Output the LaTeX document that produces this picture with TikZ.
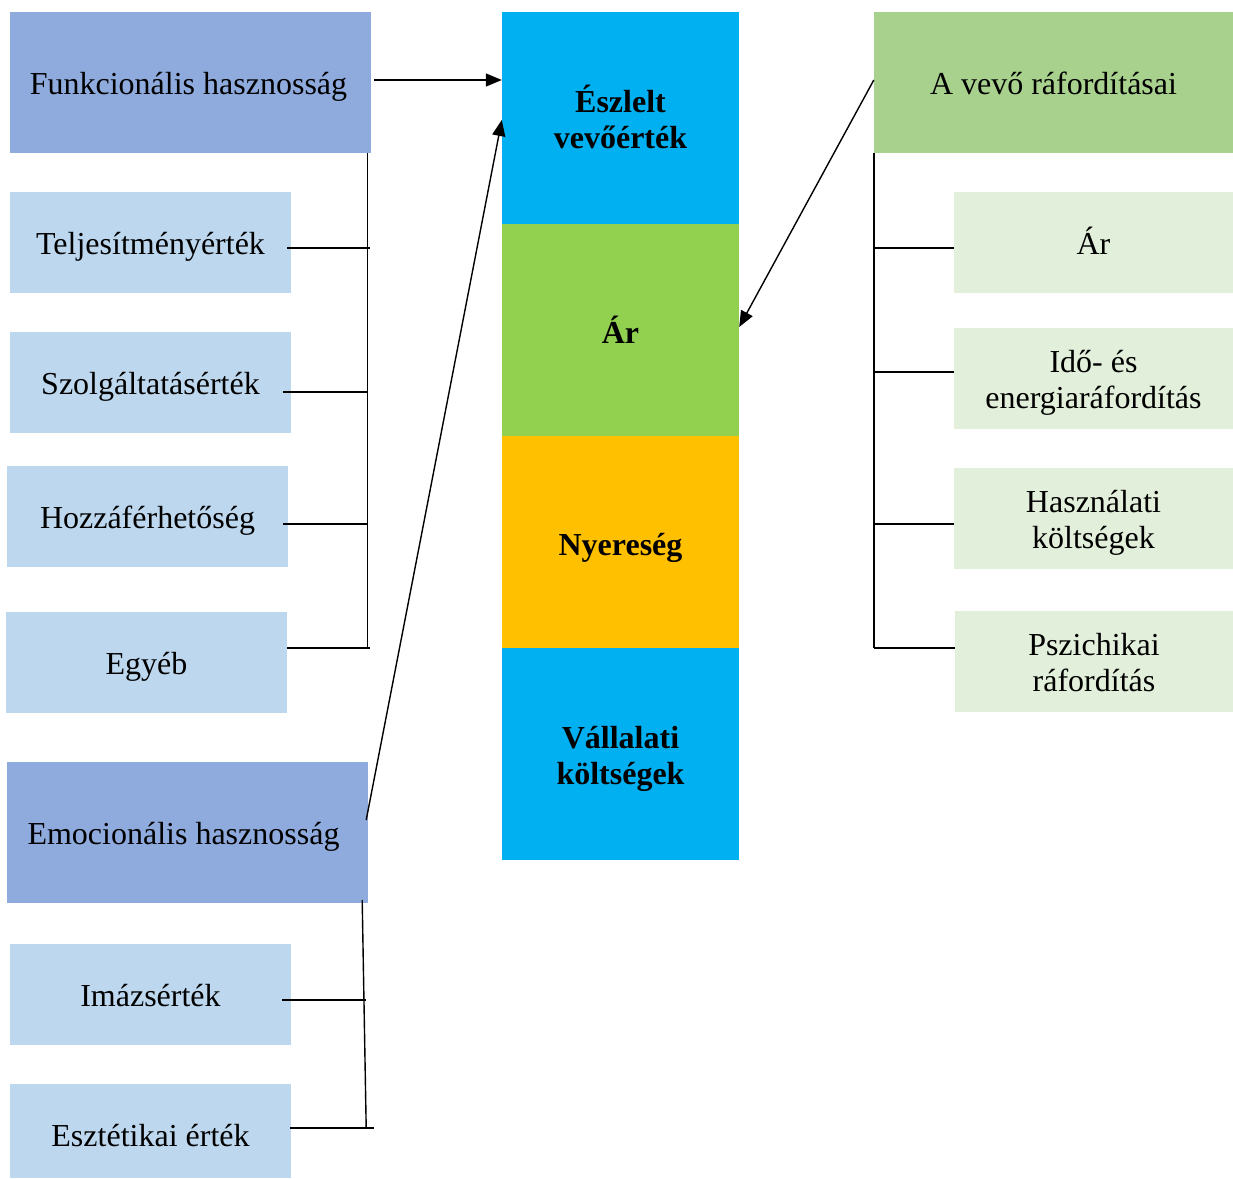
\documentclass[tikz,border=0pt]{standalone}
\usepackage{fontspec}
\setmainfont{Liberation Serif}
\usetikzlibrary{arrows.meta}
\definecolor{headblue}{HTML}{8FAADC}
\definecolor{lightblue}{HTML}{BDD7EE}
\definecolor{cyanblue}{HTML}{00B0F0}
\definecolor{leafgreen}{HTML}{92D050}
\definecolor{amber}{HTML}{FFC000}
\definecolor{headgreen}{HTML}{A9D18E}
\definecolor{palegreen}{HTML}{E2EFDA}
% struts that fix the height of a first line and the depth of a last line
\newcommand\mytop[1][30pt]{\rule{0pt}{#1}}
\newcommand\mybot[1][6.6pt]{\rule[-#1]{0pt}{0pt}}
\tikzset{
  box/.style={rectangle, inner sep=0pt, align=center, font=\fontsize{32}{36}\selectfont},
  one/.style={text height=30pt, text depth=6.6pt},
  head/.style={box, one, minimum width=361pt, minimum height=141pt},
  sub/.style={box, fill=lightblue, minimum width=281pt, minimum height=101pt},
  rsub/.style={box, fill=palegreen, minimum width=279pt, minimum height=101pt},
  bar/.style={box, minimum width=237pt, minimum height=212pt, font=\fontsize{32}{36}\selectfont\bfseries},
  barone/.style={bar, text height=30pt, text depth=3pt},
  ln/.style={line width=1.4pt, black},
  arr/.style={ln, -{Triangle[length=16pt,width=13pt]}}
}
\begin{document}
\begin{tikzpicture}[x=1pt,y=-1pt]
\useasboundingbox (0,0) rectangle (1233,1178);

% left column: functional benefit
\node[head, fill=headblue] (fh) at (190.5,82.5) {Funkcionális hasznosság\kern4pt};
\node[sub, one] (te) at (150.5,242.5) {Teljesítményérték};
\node[sub, one] (sz) at (150.5,382.5) {Szolgáltatásérték};
\node[sub, one] (hf) at (147.5,516.5) {Hozzáférhetőség};
\node[sub, one] (eg) at (146.5,662.5) {Egyéb};

% left column: emotional benefit
\node[head, fill=headblue] (eh) at (187.5,832.5) {Emocionális hasznosság\kern8pt};
\node[sub, one] (im) at (150.5,994.5) {Imázsérték};
\node[sub, minimum height=94pt, text height=34pt, text depth=2.6pt] (ez) at (150.5,1131) {Esztétikai érték};

% centre column
\node[bar, fill=cyanblue] (ev) at (620.5,118) {Észlelt\\vevőérték\mybot[2pt]};
\node[barone, fill=leafgreen] (ar) at (620.5,330) {Ár};
\node[barone, fill=amber] (ny) at (620.5,542) {Nyereség};
\node[bar, fill=cyanblue] (vk) at (620.5,754) {\mytop[33pt]Vállalati\\költségek\mybot};

% right column: customer costs
\node[head, fill=headgreen, minimum width=359pt] (rv) at (1053.5,82.5) {A vevő ráfordításai};
\node[rsub, one] (r1) at (1093.5,242.5) {Ár};
\node[rsub] (r2) at (1093.5,378.5) {\mytop Idő- és\\energiaráfordítás\mybot};
\node[rsub] (r3) at (1093.5,518.5) {\mytop Használati\\költségek\mybot};
\node[rsub, minimum width=278pt] (r4) at (1094,661.5) {\mytop Pszichikai\\ráfordítás\mybot};

% arrows into the centre column
\draw[arr] ([xshift=3pt,yshift=2.5pt]fh.east) -- ([yshift=2.5pt]fh.east -| ev.west);
\draw[arr] ([xshift=-2pt,yshift=12.5pt]eh.east) -- ([yshift=-2pt]ev.west);
\draw[arr] ([yshift=2.5pt]rv.west) -- ([yshift=3pt]ar.east);

% left bracket (functional)
\draw[ln] ([xshift=-4pt]fh.south east) -- ++(0,495);
\draw[ln] ([xshift=-4pt,yshift=-5.5pt]te.east) -- ++(83,0);
\draw[ln] ([xshift=-8pt,yshift=-9.5pt]sz.east) -- ++(84,0);
\draw[ln] ([xshift=-5pt,yshift=-7.5pt]hf.east) -- ++(84,0);
\draw[ln] ([yshift=14.5pt]eg.east) -- ++(83,0);

% left bracket (emotional)
\draw[ln] ([xshift=-6pt,yshift=3pt]eh.south east) -- ++(4,228);
\draw[ln] ([xshift=-9pt,yshift=-5.5pt]im.east) -- ++(84,0);
\draw[ln] ([xshift=-1pt,yshift=3pt]ez.east) -- ++(84,0);

% right bracket
\draw[ln] (rv.south west) -- ++(0,495);
\draw[ln] ([yshift=-5.5pt]r1.west) -- ++(-80,0);
\draw[ln] ([yshift=6.5pt]r2.west) -- ++(-80,0);
\draw[ln] ([yshift=-5.5pt]r3.west) -- ++(-80,0);
\draw[ln] ([yshift=13.5pt]r4.west) -- ++(-81,0);
\end{tikzpicture}
\end{document}
